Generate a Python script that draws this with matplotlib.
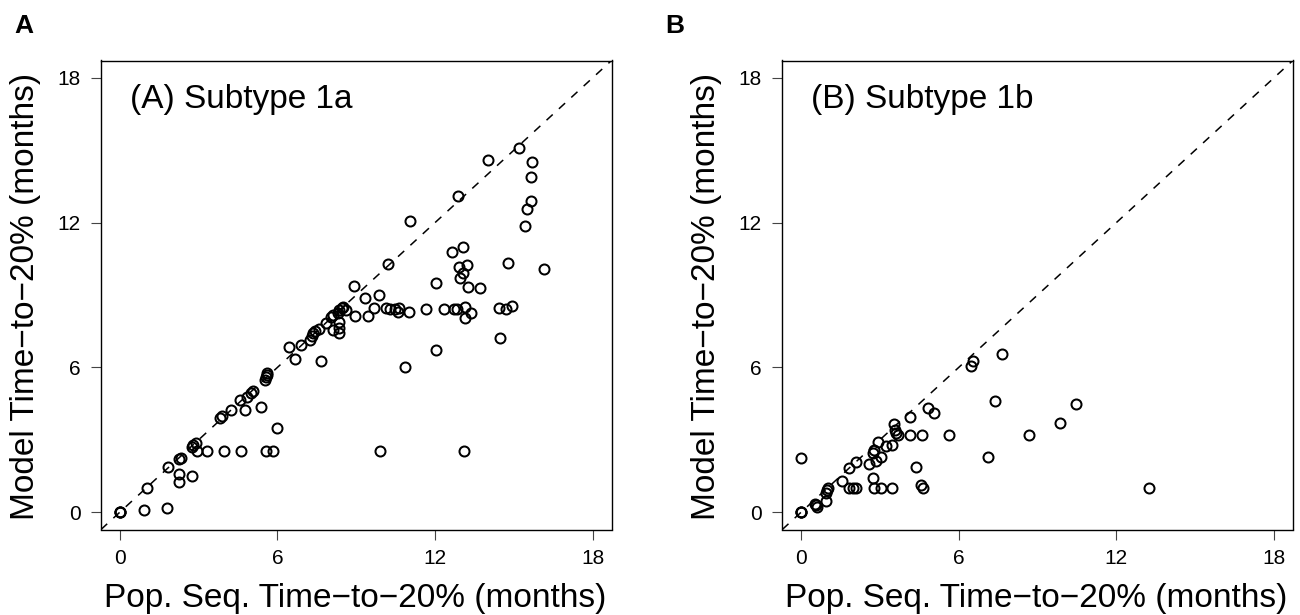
import matplotlib
matplotlib.use("Agg")
import matplotlib.pyplot as plt
import numpy as np

plt.rcParams['font.family'] = ['Liberation Sans', 'DejaVu Sans']

# ---------------- data ----------------
a_x = [0, 0, 0, 0.91, 1.78, 1.04, 1.84, 2.24, 2.24, 2.76, 2.24, 2.32, 2.73, 2.80, 2.88,
       2.92, 3.32, 3.95, 4.60, 5.58, 5.84, 5.98, 3.81, 3.87, 4.22, 4.57, 4.76, 4.85,
       4.98, 5.06, 5.37, 5.53, 5.56, 5.59, 5.62, 6.44, 6.68, 6.90, 7.24, 7.30, 7.37,
       7.43, 7.60, 7.64, 7.84, 8.04, 8.13, 8.32, 8.36, 8.45, 8.51, 8.61, 8.36, 8.36,
       8.36, 8.13, 8.96, 8.93, 9.34, 9.46, 9.69, 9.88, 10.12, 10.29, 10.48, 10.61,
       10.59, 10.99, 11.66, 12.35, 12.74, 12.83, 13.14, 13.36, 13.14, 14.44, 14.70,
       14.94, 14.47, 12.03, 10.86, 9.90, 13.12, 10.22, 11.06, 12.88, 14.01, 15.20,
       15.69, 15.64, 15.64, 15.50, 15.42, 13.08, 12.66, 13.21, 12.92, 14.77, 16.16,
       13.08, 12.95, 12.03, 13.27, 13.71]
a_y = [0, 0, 0, 0.08, 0.18, 1.02, 1.85, 1.59, 1.26, 1.50, 2.20, 2.24, 2.72, 2.80, 2.88,
       2.55, 2.55, 2.55, 2.55, 2.55, 2.55, 3.48, 3.89, 3.99, 4.24, 4.65, 4.24, 4.79,
       4.93, 5.04, 4.37, 5.48, 5.59, 5.68, 5.75, 6.84, 6.35, 6.93, 7.14, 7.30, 7.42,
       7.51, 7.58, 6.27, 7.83, 8.08, 8.17, 8.24, 8.38, 8.45, 8.52, 8.38, 7.90, 7.62,
       7.41, 7.55, 8.13, 9.37, 8.89, 8.14, 8.45, 8.99, 8.45, 8.41, 8.42, 8.45,
       8.29, 8.31, 8.42, 8.42, 8.42, 8.42, 8.52, 8.27, 8.05, 8.45, 8.42,
       8.55, 7.23, 6.72, 6.01, 2.55, 2.55, 10.29, 12.07, 13.12, 14.59, 15.10,
       14.50, 13.88, 12.91, 12.56, 11.87, 11.00, 10.77, 10.26, 10.15, 10.34, 10.08,
       9.90, 9.72, 9.51, 9.35, 9.30]

b_x = [0, 0, 0, 0, 0.53, 0.59, 0.56, 0.95, 0.95, 1.00, 1.01, 1.55, 1.83, 2.09, 1.83,
       1.96, 2.09, 2.60, 2.72, 2.79, 2.85, 3.03, 2.72, 2.79, 3.03, 2.93, 3.21, 3.46,
       3.46, 3.55, 3.57, 3.61, 3.70, 4.15, 4.16, 4.60, 4.39, 4.58, 4.63, 4.84, 5.06,
       5.62, 6.46, 6.54, 7.64, 7.39, 7.13, 8.68, 9.84, 10.47, 13.23]
b_y = [0, 0, 0, 2.26, 0.34, 0.23, 0.30, 0.48, 0.79, 0.92, 1.02, 1.27, 1.84, 2.08, 0.99,
       0.99, 0.99, 1.99, 2.47, 2.58, 2.10, 2.30, 1.43, 0.99, 0.99, 2.92, 2.75, 2.79,
       0.99, 3.66, 3.41, 3.30, 3.20, 3.94, 3.19, 3.19, 1.85, 1.13, 1.02, 4.33, 4.10,
       3.19, 6.07, 6.27, 6.56, 4.61, 2.30, 3.20, 3.71, 4.49, 0.99]

ticks = [0, 6, 12, 18]
panel_titles = ["(A) Subtype 1a", "(B) Subtype 1b"]
panel_letters = ["A", "B"]
xlabel = "Pop. Seq. Time\u2212to\u221220% (months)"
ylabel = "Model Time\u2212to\u221220% (months)"

# ---------------- figure ----------------
W, H = 1300, 615
fig = plt.figure(figsize=(W / 100, H / 100), dpi=100)

lims = (-0.72, 18.72)
ax_left_px = [101, 782.3]
top_px, bot_px = 60.5, 529.5
ax_w_px = 510.5
letter_x_px = [14, 665]

for i, (xs, ys) in enumerate([(a_x, a_y), (b_x, b_y)]):
    L = ax_left_px[i]
    ax = fig.add_axes([L / W, (H - bot_px) / H, ax_w_px / W, (bot_px - top_px) / H])
    ax.plot(lims, lims, color='black', lw=1.1, ls=(0, (5.5, 5.5)), zorder=1)
    ax.plot(xs, ys, ls='none', marker='o', ms=7.2, mfc='none', mec='black',
            mew=1.45, zorder=2)
    ax.set_xlim(lims)
    ax.set_ylim(lims)
    ax.set_xticks(ticks)
    ax.set_yticks(ticks)
    ax.tick_params(direction='out', length=7.2, width=0.8, labelsize=15,
                   color='#444444')
    ax.tick_params(axis='x', pad=6.5)
    ax.tick_params(axis='y', pad=7.5)
    for s in ax.spines.values():
        s.set_linewidth(1.0)
        s.set_color('black')
    ax.text((130 - 101) / 510, (bot_px - 108) / (bot_px - top_px), panel_titles[i],
            transform=ax.transAxes, fontsize=24, va='baseline', ha='left')
    # axis labels
    cx = (L + ax_w_px / 2 - 1.5) / W
    fig.text(cx, 1 - 598 / H, xlabel, fontsize=24, ha='center', va='center')
    fig.text((L - 75.5) / W, 1 - 296 / H, ylabel, fontsize=24, rotation=90,
             ha='center', va='center')
    fig.text(letter_x_px[i] / W, 1 - 33 / H, panel_letters[i], fontsize=19,
             fontweight='bold', ha='left', va='baseline')

fig.savefig("out.png", dpi=100)
